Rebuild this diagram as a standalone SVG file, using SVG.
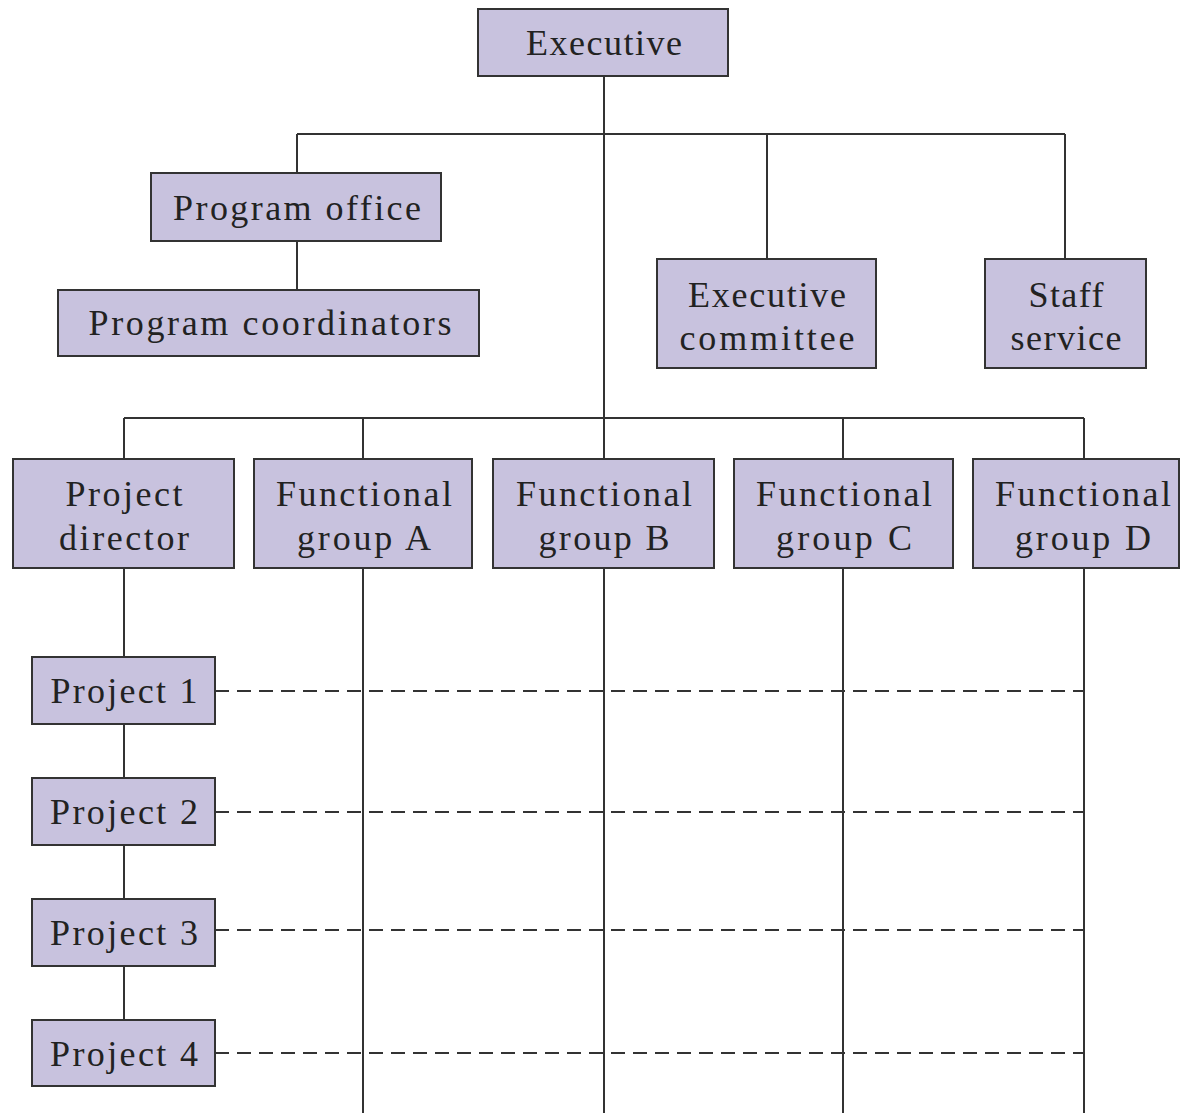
<svg xmlns="http://www.w3.org/2000/svg" width="1180" height="1113" viewBox="0 0 1180 1113">
<style>
.box{fill:#c8c2de;stroke:#333;stroke-width:2}
.ln{stroke:#333;stroke-width:2;fill:none}
.dash{stroke:#333;stroke-width:2;fill:none;stroke-dasharray:14 8}
text{font-family:"Liberation Serif",serif;font-size:36px;fill:#222;text-anchor:middle}
</style>
<rect width="1180" height="1113" fill="#fff"/>
<g id="connectors">
<path class="ln" d="M604 76V418M297 134H1065M297 134V173M767 134V259M1065 134V259M297 241V290"/>
<path class="ln" d="M124 418H1084M124 418V459M363 418V459M604 418V459M843 418V459M1084 418V459"/>
<path class="ln" d="M124 568V657M124 724V778M124 845V899M124 966V1020"/>
<path class="ln" d="M363 568V1113M604 568V1113M843 568V1113M1084 568V1113"/>
<path class="dash" d="M215 691H1084M215 812H1084M215 930H1084M215 1053H1084"/>
</g>
<g id="executive"><rect class="box" x="478" y="9" width="250" height="67"/><text x="604" y="55" textLength="156" lengthAdjust="spacing">Executive</text></g>
<g id="program-office"><rect class="box" x="151" y="173" width="290" height="68"/><text x="297" y="220" textLength="248" lengthAdjust="spacing">Program office</text></g>
<g id="program-coordinators"><rect class="box" x="58" y="290" width="421" height="66"/><text x="270" y="335" textLength="363" lengthAdjust="spacing">Program coordinators</text></g>
<g id="executive-committee"><rect class="box" x="657" y="259" width="219" height="109"/><text x="767" y="307" textLength="158" lengthAdjust="spacing">Executive</text><text x="767" y="350" textLength="175" lengthAdjust="spacing">committee</text></g>
<g id="staff-service"><rect class="box" x="985" y="259" width="161" height="109"/><text x="1066" y="307" textLength="75" lengthAdjust="spacing">Staff</text><text x="1066" y="350" textLength="111" lengthAdjust="spacing">service</text></g>
<g id="project-director"><rect class="box" x="13" y="459" width="221" height="109"/><text x="124" y="506" textLength="117" lengthAdjust="spacing">Project</text><text x="124" y="550" textLength="130" lengthAdjust="spacing">director</text></g>
<g id="functional-a"><rect class="box" x="254" y="459" width="218" height="109"/><text x="364" y="506" textLength="176" lengthAdjust="spacing">Functional</text><text x="364" y="550" textLength="134" lengthAdjust="spacing">group A</text></g>
<g id="functional-b"><rect class="box" x="493" y="459" width="221" height="109"/><text x="604" y="506" textLength="176" lengthAdjust="spacing">Functional</text><text x="604" y="550" textLength="131" lengthAdjust="spacing">group B</text></g>
<g id="functional-c"><rect class="box" x="734" y="459" width="219" height="109"/><text x="844" y="506" textLength="176" lengthAdjust="spacing">Functional</text><text x="844" y="550" textLength="136" lengthAdjust="spacing">group C</text></g>
<g id="functional-d"><rect class="box" x="973" y="459" width="206" height="109"/><text x="1083" y="506" textLength="176" lengthAdjust="spacing">Functional</text><text x="1083" y="550" textLength="136" lengthAdjust="spacing">group D</text></g>
<g id="project-1"><rect class="box" x="32" y="657" width="183" height="67"/><text x="124" y="703" textLength="147" lengthAdjust="spacing">Project 1</text></g>
<g id="project-2"><rect class="box" x="32" y="778" width="183" height="67"/><text x="124" y="824" textLength="148" lengthAdjust="spacing">Project 2</text></g>
<g id="project-3"><rect class="box" x="32" y="899" width="183" height="67"/><text x="124" y="945" textLength="148" lengthAdjust="spacing">Project 3</text></g>
<g id="project-4"><rect class="box" x="32" y="1020" width="183" height="66"/><text x="124" y="1066" textLength="148" lengthAdjust="spacing">Project 4</text></g>
</svg>
